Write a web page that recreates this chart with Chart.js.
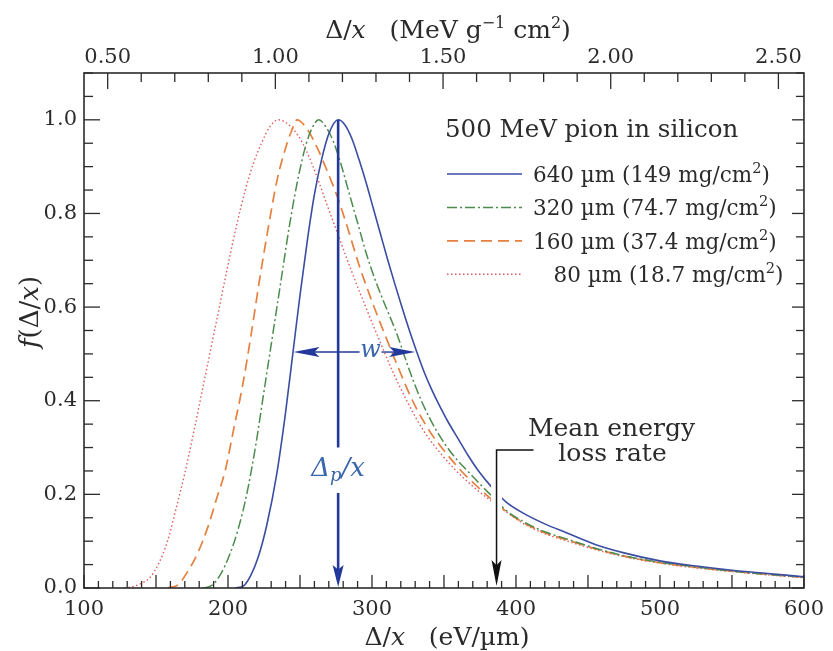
<!DOCTYPE html>
<html>
<head>
<meta charset="utf-8">
<script src="https://cdn.jsdelivr.net/npm/chart.js@4.4.1/dist/chart.umd.min.js"></script>
<style>
  html, body { margin: 0; padding: 0; background: #fff; }
</style>
</head>
<body>
<canvas id="landauChart" width="833" height="651"></canvas>
<script>
// ── Data ───────────────────────────────────────────────
const seriesLabels = [
    "640 µm (149 mg/cm²)",
    "320 µm (74.7 mg/cm²)",
    "160 µm (37.4 mg/cm²)",
    "\u2007 80 µm (18.7 mg/cm²)"
];

// 640 µm (solid blue)
const x640 = [205, 211, 216, 221, 227, 234, 240, 245, 250, 255, 260, 265, 270, 276.5, 281, 286, 291, 296, 301, 306, 311, 316, 321, 326, 331, 336, 341, 346, 353, 360, 367, 374, 383, 393, 405, 420, 435, 455, 475, 500, 525, 550, 575, 600];
const y640 = [0, 0.005, 0.028, 0.066, 0.135, 0.246, 0.375, 0.5, 0.625, 0.74, 0.84, 0.915, 0.97, 1.0, 0.99, 0.96, 0.915, 0.865, 0.81, 0.755, 0.70, 0.648, 0.598, 0.55, 0.505, 0.463, 0.427, 0.395, 0.354, 0.318, 0.282, 0.25, 0.216, 0.184, 0.16, 0.137, 0.118, 0.093, 0.075, 0.058, 0.047, 0.038, 0.031, 0.024];

// 320 µm (green dash-dot)
const x320 = [183, 189, 195, 201, 207, 213, 219, 225, 231, 237, 243, 249, 254, 258, 263, 268, 273, 278, 284, 290, 296, 302, 309, 317, 326, 335, 345, 356, 367, 375, 383, 393, 405, 420, 435, 455, 475, 500, 525, 550, 575, 600];
const y320 = [0, 0.006, 0.03, 0.07, 0.125, 0.2, 0.3, 0.42, 0.54, 0.66, 0.78, 0.88, 0.945, 0.98, 1.0, 0.985, 0.955, 0.91, 0.845, 0.78, 0.715, 0.66, 0.605, 0.545, 0.465, 0.395, 0.335, 0.285, 0.248, 0.222, 0.197, 0.166, 0.142, 0.12, 0.105, 0.085, 0.069, 0.055, 0.045, 0.036, 0.029, 0.023];

// 160 µm (orange dashed)
const x160 = [158, 165, 172, 179, 186, 192, 198, 204, 210, 216, 222, 228, 234, 240, 244, 248, 255, 262, 269, 276, 283, 291, 300, 309, 319, 329, 340, 351, 362, 372, 382, 393, 405, 420, 435, 455, 475, 500, 525, 550, 575, 600];
const y160 = [0, 0.006, 0.035, 0.075, 0.13, 0.19, 0.25, 0.34, 0.43, 0.54, 0.66, 0.77, 0.87, 0.94, 0.975, 1.0, 0.98, 0.94, 0.89, 0.835, 0.77, 0.69, 0.612, 0.541, 0.465, 0.395, 0.335, 0.29, 0.25, 0.22, 0.192, 0.164, 0.14, 0.118, 0.103, 0.084, 0.068, 0.054, 0.044, 0.036, 0.029, 0.023];

// 80 µm (red dotted)
const x80 = [128, 135, 140, 146, 152, 158, 164, 170, 176, 182, 188, 194, 200, 206, 212, 218, 224, 229, 235, 242, 249, 255, 261, 268, 277, 286, 295, 303, 314, 325, 336, 347, 357, 369, 381, 393, 405, 420, 435, 455, 475, 500, 525, 550, 575, 600];
const y80 = [0, 0.004, 0.01, 0.023, 0.053, 0.1, 0.17, 0.245, 0.33, 0.42, 0.51, 0.6, 0.69, 0.775, 0.85, 0.91, 0.955, 0.985, 1.0, 0.99, 0.965, 0.93, 0.885, 0.825, 0.75, 0.675, 0.605, 0.545, 0.465, 0.395, 0.335, 0.29, 0.255, 0.22, 0.19, 0.163, 0.138, 0.116, 0.101, 0.082, 0.067, 0.053, 0.043, 0.035, 0.028, 0.022];

// tick labels
const xTickLabels   = [100, 200, 300, 400, 500, 600];
const yTickLabels   = [0.0, 0.2, 0.4, 0.6, 0.8, 1.0];
const topTickLabels = [0.50, 1.00, 1.50, 2.00, 2.50];

// annotation values (eV/µm, f)
const deltaP    = 276.5;   // most probable
const wLeft     = 245.5;   // half max, left
const wRight    = 330;     // half max, right
const halfMax   = 0.504;
const meanRate  = 386.5;   // mean energy loss rate

// eV/µm -> MeV g^-1 cm^2 for silicon (2.329 g/cm^3)
const toMassUnits = 0.01 / 2.329;

// ── Helpers ────────────────────────────────────────────
const SERIF = '"DejaVu Serif", "Liberation Serif", serif';
const INK   = "#2b2b2b";
const ARROW_BLUE = "#22389a";
const TEXT_BLUE  = "#3a66ac";

const toPoints = (xs, ys) => xs.map((x, i) => ({ x: x, y: ys[i] }));
const fontOf = s => `${s.italic ? "italic " : ""}${s.size}px ${SERIF}`;

function richWidth(ctx, segs) {
    let w = 0;
    segs.forEach(s => { ctx.font = fontOf(s); w += ctx.measureText(s.t).width; });
    return w;
}

function richText(ctx, segs, x, y, align) {
    const total = richWidth(ctx, segs);
    let cx = align === "center" ? x - total / 2 : (align === "right" ? x - total : x);
    segs.forEach(s => {
        ctx.font = fontOf(s);
        ctx.fillText(s.t, cx, y + (s.dy || 0));
        cx += ctx.measureText(s.t).width;
    });
}

// "mg/cm²" -> segments with a raised 2
function withSuperscript(label, size) {
    const parts = label.split("²");
    return [
        { t: parts[0], size: size },
        { t: "2", size: size * 0.68, dy: -size * 0.42 },
        { t: parts[1], size: size }
    ];
}

function arrowHead(ctx, tx, ty, dx, dy, len, half) {
    const bx = tx - dx * len, by = ty - dy * len;
    const nx = tx - dx * len * 0.8, ny = ty - dy * len * 0.8;
    ctx.beginPath();
    ctx.moveTo(tx, ty);
    ctx.lineTo(bx - dy * half, by + dx * half);
    ctx.lineTo(nx, ny);
    ctx.lineTo(bx + dy * half, by - dx * half);
    ctx.closePath();
    ctx.fill();
}

function line(ctx, x1, y1, x2, y2) {
    ctx.beginPath();
    ctx.moveTo(x1, y1);
    ctx.lineTo(x2, y2);
    ctx.stroke();
}

// ── Decorations: frame, inward ticks, titles, legend, arrows ──
const decor = {
    id: "decor",
    afterDatasetsDraw(chart) {
        const ctx = chart.ctx;
        const xs = chart.scales.x, ys = chart.scales.y;
        ctx.save();

        // Δp/x arrow
        const px = xs.getPixelForValue(deltaP);
        ctx.strokeStyle = ARROW_BLUE;
        ctx.fillStyle = ARROW_BLUE;
        ctx.lineWidth = 2.6;
        line(ctx, px, ys.getPixelForValue(1.0), px, ys.getPixelForValue(0.30));
        line(ctx, px, ys.getPixelForValue(0.203), px, ys.getPixelForValue(0.03));
        arrowHead(ctx, px, ys.getPixelForValue(0) - 1, 0, 1, 22, 5.5);

        ctx.fillStyle = TEXT_BLUE;
        ctx.textBaseline = "alphabetic";
        richText(ctx, [
            { t: "Δ", size: 26, italic: true },
            { t: "p", size: 18, italic: true, dy: 5 },
            { t: "/x", size: 26, italic: true }
        ], px, ys.getPixelForValue(0.256) + 8, "center");

        // w arrow (FWHM)
        const wy = ys.getPixelForValue(halfMax);
        const wl = xs.getPixelForValue(wLeft), wr = xs.getPixelForValue(wRight);
        const wc = xs.getPixelForValue(299);
        ctx.strokeStyle = ARROW_BLUE;
        ctx.fillStyle = ARROW_BLUE;
        ctx.lineWidth = 1.4;
        line(ctx, wl + 10, wy, wc - 11, wy);
        line(ctx, wc + 11, wy, wr - 10, wy);
        arrowHead(ctx, wl, wy, -1, 0, 26, 5);
        arrowHead(ctx, wr, wy, 1, 0, 26, 5);
        ctx.fillStyle = TEXT_BLUE;
        ctx.textBaseline = "middle";
        richText(ctx, [{ t: "w", size: 24, italic: true }], wc, wy - 1, "center");

        // mean energy loss rate arrow, with a white break through the curves
        const mx = xs.getPixelForValue(meanRate);
        const my = ys.getPixelForValue(0.295);
        ctx.strokeStyle = "#ffffff";
        ctx.lineWidth = 11;
        line(ctx, mx, my, mx, ys.getPixelForValue(0.12));
        ctx.strokeStyle = "#111";
        ctx.fillStyle = "#111";
        ctx.lineWidth = 1.5;
        ctx.beginPath();
        ctx.moveTo(mx + 37, my);
        ctx.lineTo(mx, my);
        ctx.lineTo(mx, ys.getPixelForValue(0) - 20);
        ctx.stroke();
        arrowHead(ctx, mx, ys.getPixelForValue(0) - 2, 0, 1, 26, 5);

        ctx.fillStyle = INK;
        ctx.textBaseline = "alphabetic";
        richText(ctx, [{ t: "Mean energy", size: 25 }], mx + 115, my - 14, "center");
        richText(ctx, [{ t: "loss rate", size: 25 }], mx + 116, my + 11, "center");

        ctx.restore();
    },
    afterDraw(chart) {
        const ctx = chart.ctx;
        const a = chart.chartArea;
        const xs = chart.scales.x, ys = chart.scales.y, xt = chart.scales.xTop;
        ctx.save();
        ctx.strokeStyle = INK;
        ctx.fillStyle = INK;

        // frame
        ctx.lineWidth = 1.6;
        ctx.strokeRect(a.left, a.top, a.right - a.left, a.bottom - a.top);

        // inward ticks
        ctx.lineWidth = 1.3;
        for (let i = 0; i <= 22; i++) {
            const y = ys.getPixelForValue(i * 0.05);
            const big = i % 4 === 0 && i <= 20;
            line(ctx, a.left, y, a.left + (big ? 16 : 9), y);
            line(ctx, a.right, y, a.right - (i % 4 === 0 ? 12 : 8), y);
        }
        for (let v = 100; v <= 600; v += 10) {
            const x = xs.getPixelForValue(v);
            const len = v % 50 === 0 ? 13 : 7;
            line(ctx, x, a.bottom, x, a.bottom - len);
        }
        for (let i = 5; i <= 25; i++) {
            const x = xt.getPixelForValue(i / 10);
            line(ctx, x, a.top, x, a.top + (i % 5 === 0 ? 16 : 9));
        }

        // axis titles
        ctx.textBaseline = "alphabetic";
        richText(ctx, [
            { t: "Δ/", size: 25 },
            { t: "x", size: 25, italic: true },
            { t: "   (eV/µm)", size: 25 }
        ], 447, 645, "center");
        richText(ctx, [
            { t: "Δ/", size: 25 },
            { t: "x", size: 25, italic: true },
            { t: "   (MeV g", size: 25 },
            { t: "−1", size: 16, dy: -10 },
            { t: " cm", size: 25 },
            { t: "2", size: 16, dy: -10 },
            { t: ")", size: 25 }
        ], 448, 38, "center");

        ctx.save();
        ctx.translate(38, 312);
        ctx.rotate(-Math.PI / 2);
        richText(ctx, [
            { t: "f", size: 26, italic: true },
            { t: "(Δ/", size: 26 },
            { t: "x", size: 26, italic: true },
            { t: ")", size: 26 }
        ], 0, 0, "center");
        ctx.restore();

        // legend
        richText(ctx, [{ t: "500 MeV pion in silicon", size: 24.5 }], 445, 137, "left");
        chart.data.datasets.forEach((ds, i) => {
            const base = 182 + i * 33.4;
            ctx.save();
            ctx.strokeStyle = ds.borderColor;
            ctx.lineWidth = ds.borderWidth;
            ctx.setLineDash(ds.borderDash);
            line(ctx, 447, base - 8, 522, base - 8);
            ctx.restore();
            richText(ctx, withSuperscript(ds.label, 21.5), 533, base, "left");
        });

        ctx.restore();
    }
};

// ── Chart ──────────────────────────────────────────────
const tickFont = { family: SERIF, size: 21 };

new Chart(document.getElementById("landauChart"), {
    type: "line",
    data: {
        datasets: [
            { label: seriesLabels[0], data: toPoints(x640, y640), borderColor: "#3b4da3", borderWidth: 1.6, borderDash: [] },
            { label: seriesLabels[1], data: toPoints(x320, y320), borderColor: "#4d8c4f", borderWidth: 1.5, borderDash: [10, 3, 2, 3] },
            { label: seriesLabels[2], data: toPoints(x160, y160), borderColor: "#e6803f", borderWidth: 1.7, borderDash: [11, 6] },
            { label: seriesLabels[3], data: toPoints(x80, y80), borderColor: "#e05a5e", borderWidth: 1.4, borderDash: [1.5, 2.5] }
        ]
    },
    options: {
        responsive: false,
        animation: false,
        parsing: false,
        layout: { padding: { left: 0, right: 22, top: 0, bottom: 0 } },
        elements: {
            point: { radius: 0 },
            line: { cubicInterpolationMode: "monotone", fill: false }
        },
        plugins: {
            legend: { display: false },
            tooltip: { enabled: false }
        },
        scales: {
            x: {
                type: "linear",
                position: "bottom",
                min: 100,
                max: 600,
                afterBuildTicks: s => { s.ticks = xTickLabels.map(v => ({ value: v })); },
                afterFit: s => { s.height = 63; },
                grid: { display: false, drawTicks: false },
                border: { display: false },
                ticks: { font: tickFont, color: INK, padding: 9, maxRotation: 0, callback: v => String(v) }
            },
            xTop: {
                type: "linear",
                position: "top",
                min: 100 * toMassUnits,
                max: 600 * toMassUnits,
                afterBuildTicks: s => { s.ticks = topTickLabels.map(v => ({ value: v })); },
                afterFit: s => { s.height = 73; },
                grid: { display: false, drawTicks: false },
                border: { display: false },
                ticks: { font: tickFont, color: INK, padding: 3, maxRotation: 0, callback: v => v.toFixed(2) }
            },
            y: {
                type: "linear",
                min: 0,
                max: 1.1,
                afterBuildTicks: s => { s.ticks = yTickLabels.map(v => ({ value: v })); },
                afterFit: s => { s.width = 84; },
                grid: { display: false, drawTicks: false },
                border: { display: false },
                ticks: { font: tickFont, color: INK, padding: 7, callback: v => v.toFixed(1) }
            }
        }
    },
    plugins: [decor]
});
</script>
</body>
</html>
